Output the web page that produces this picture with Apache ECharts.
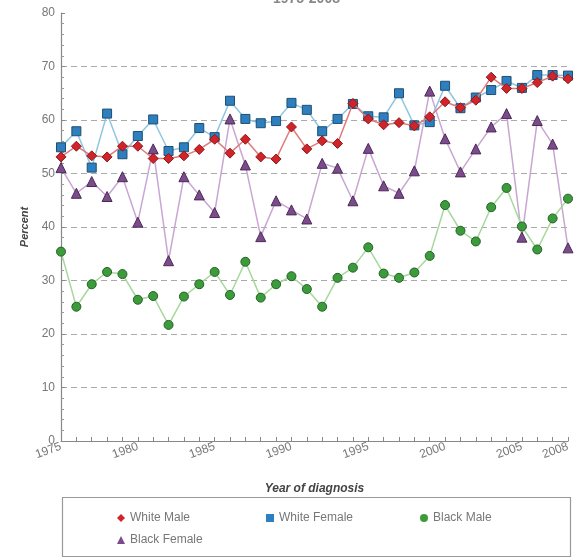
<!DOCTYPE html>
<html>
<head>
<meta charset="utf-8">
<script src="https://cdn.jsdelivr.net/npm/echarts@6/dist/echarts.min.js"></script>
<style>
  html, body { margin: 0; padding: 0; background: #fff; }
  #chart { width: 580px; height: 559px; }
</style>
</head>
<body>
<div id="chart"></div>
<script>
// years 1975..2008
const years = []
for (let y = 1975; y <= 2008; y++) years.push(String(y))
const xTickLabels = ['1975', '1980', '1985', '1990', '1995', '2000', '2005', '2008']

const whiteMale = [53.1, 55.1, 53.3, 53.1, 55.1, 55.1, 52.8, 52.8, 53.3, 54.5, 56.4,
  53.8, 56.4, 53.1, 52.7, 58.7, 54.6, 56.1, 55.6, 63.1, 60.2,
  59.1, 59.5, 58.9, 60.6, 63.4, 62.3, 63.7, 68.0, 65.9, 65.9, 67.0, 68.2, 67.7]
const whiteFemale = [54.9, 57.9, 51.1, 61.2, 53.6, 57.0, 60.1, 54.2, 54.9, 58.5, 56.8,
  63.6, 60.2, 59.4, 59.8, 63.2, 61.9, 57.9, 60.2, 63.0, 60.7,
  60.5, 65.0, 59.0, 59.6, 66.4, 62.2, 64.2, 65.6, 67.3, 66.0, 68.4, 68.4, 68.3]
const blackMale = [35.4, 25.1, 29.3, 31.6, 31.2, 26.4, 27.1, 21.7, 27.0, 29.3, 31.6,
  27.3, 33.5, 26.8, 29.3, 30.8, 28.4, 25.1, 30.5, 32.4, 36.2,
  31.3, 30.5, 31.5, 34.6, 44.1, 39.3, 37.3, 43.7, 47.3, 40.1, 35.8, 41.6, 45.3]
const blackFemale = [51.1, 46.3, 48.5, 45.7, 49.4, 40.9, 54.6, 33.7, 49.4, 46.0, 42.7,
  60.2, 51.6, 38.2, 44.9, 43.2, 41.5, 51.9, 51.0, 44.9, 54.7,
  47.7, 46.3, 50.5, 65.4, 56.5, 50.3, 54.6, 58.7, 61.2, 38.1, 59.9, 55.5, 36.1]

const FONT = '"Liberation Sans", Arial, sans-serif'

const mk = (name, data, symbol, color, border, line, size, z) => ({
  name, type: 'line', data, symbol, symbolSize: size, z,
  lineStyle: { color: line, width: 1.5 },
  itemStyle: { color, borderColor: border, borderWidth: 1 },
  emphasis: { disabled: true }
})

// one legend per entry so they sit in the same grid as the picture
const legendItem = (name, icon, left, top) => ({
  data: [name], icon, left, top, itemWidth: 8, itemHeight: 8, itemGap: 0,
  itemStyle: { borderWidth: 0 },
  textStyle: { color: '#777', fontSize: 12, fontFamily: FONT }
})

const chart = echarts.init(document.getElementById('chart'))
chart.setOption({
  animation: false,
  title: {
    text: '1975-2008', left: 268, top: -13,
    textStyle: { color: '#888', fontSize: 14, fontWeight: 'bold', fontFamily: FONT }
  },
  grid: { left: 61, right: 12, top: 13, bottom: 118 },
  legend: [
    legendItem('White Male', 'diamond', 112, 507),
    legendItem('White Female', 'rect', 261, 507),
    legendItem('Black Male', 'circle', 415, 507),
    legendItem('Black Female', 'triangle', 112, 529)
  ],
  graphic: [{
    type: 'rect', left: 60, top: 495,
    shape: { width: 508, height: 59 },
    style: { fill: 'none', stroke: '#999', lineWidth: 1.2 }
  }],
  xAxis: {
    type: 'category', data: years, boundaryGap: false,
    name: 'Year of diagnosis', nameLocation: 'middle', nameGap: 42,
    nameTextStyle: { color: '#444', fontSize: 12, fontWeight: 'bold', fontStyle: 'italic', fontFamily: FONT },
    axisLine: { lineStyle: { color: '#888', width: 1.2 } },
    axisTick: { inside: true, length: 4, interval: 0, lineStyle: { color: '#888' } },
    axisLabel: {
      rotate: 20, color: '#777', fontSize: 12, fontFamily: FONT, margin: 5,
      interval: 0,
      formatter: v => xTickLabels.includes(v) ? v : ''
    },
    splitLine: { show: false }
  },
  yAxis: {
    type: 'value', min: 0, max: 80, interval: 10,
    name: 'Percent', nameLocation: 'middle', nameGap: 26, nameRotate: 90,
    nameTextStyle: { color: '#444', fontSize: 11, fontWeight: 'bold', fontStyle: 'italic', fontFamily: FONT },
    axisLine: { show: true, lineStyle: { color: '#888', width: 1.2 } },
    axisTick: { show: true, inside: true, length: 4, lineStyle: { color: '#888' } },
    minorTick: { show: true, splitNumber: 5, length: 3, lineStyle: { color: '#999' } },
    axisLabel: { color: '#777', fontSize: 12, fontFamily: FONT, margin: 6 },
    splitLine: {
      show: true, showMinLine: false, showMaxLine: false,
      lineStyle: { color: '#aaa', type: [6, 4], width: 1.2 }
    }
  },
  series: [
    mk('White Male', whiteMale, 'diamond', '#d1232a', '#8a1a1a', '#e07a7a', 10, 5),
    mk('White Female', whiteFemale, 'rect', '#2d7fbf', '#1f4f70', '#8ec6e2', 9, 4),
    mk('Black Male', blackMale, 'circle', '#3c9c3c', '#246024', '#a6d89c', 9, 3),
    mk('Black Female', blackFemale, 'triangle', '#7b4b8c', '#4a2a55', '#c9a6d2', 10, 2)
  ]
})
</script>
</body>
</html>
